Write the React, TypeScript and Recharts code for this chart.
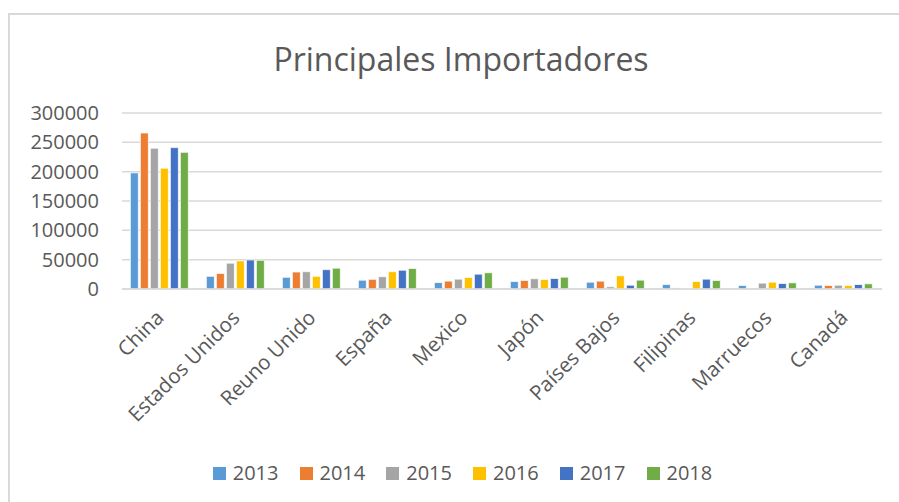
import { BarChart, Bar, XAxis, YAxis, CartesianGrid } from 'recharts';

const COUNTRIES = [
  'China',
  'Estados Unidos',
  'Reuno Unido',
  'España',
  'Mexico',
  'Japón',
  'Países Bajos',
  'Filipinas',
  'Marruecos',
  'Canadá',
];

const YEARS = ['2013', '2014', '2015', '2016', '2017', '2018'];

const V2013 = [198000, 21700, 20000, 15000, 11000, 12800, 11600, 7700, 6000, 6500];
const V2014 = [266000, 26500, 29000, 16500, 13500, 14600, 13400, 1800, 0, 6000];
const V2015 = [240000, 44000, 29500, 21000, 16800, 17500, 3800, 500, 10000, 6500];
const V2016 = [206000, 48000, 21700, 29500, 19700, 16300, 22600, 12800, 11600, 6000];
const V2017 = [241000, 49500, 33000, 32000, 25300, 18000, 6500, 16800, 9400, 7700];
const V2018 = [233000, 49000, 35500, 35000, 27700, 20200, 15100, 14600, 10600, 8900];

const Y_TICKS = [0, 50000, 100000, 150000, 200000, 250000, 300000];

const COLORS = ['#5B9BD5', '#ED7D31', '#A5A5A5', '#FFC000', '#4472C4', '#70AD47'];

const SERIES = [V2013, V2014, V2015, V2016, V2017, V2018];

const data = COUNTRIES.map((name, i) => {
  const row: Record<string, string | number> = { name };
  YEARS.forEach((y, k) => {
    row[y] = SERIES[k][i];
  });
  return row;
});

const FONT = '"Open Sans", "Noto Sans", sans-serif';
const TEXT = '#595959';

function CountryTick(props: any) {
  const { x, y, payload } = props;
  const ax = x + 5;
  const ay = y + 22;
  return (
    <text
      x={ax}
      y={ay}
      transform={`rotate(-45, ${ax}, ${ay})`}
      textAnchor="end"
      fill={TEXT}
      fontSize={20.5}
      fontFamily={FONT}
    >
      {payload.value}
    </text>
  );
}

export default function App() {
  return (
    <div
      style={{
        position: 'fixed',
        left: 0,
        top: 0,
        width: 899,
        height: 502,
        overflow: 'hidden',
        background: '#fff',
      }}
    >
      <div
        style={{
          position: 'absolute',
          left: 8,
          top: 13,
          width: 900,
          height: 500,
          borderTop: '2px solid #d9d9d9',
          borderLeft: '2px solid #d9d9d9',
        }}
      />
      <div
        style={{
          position: 'absolute',
          left: 0,
          top: 37,
          width: 922,
          textAlign: 'center',
          fontFamily: FONT,
          fontSize: 32,
          color: TEXT,
        }}
      >
        Principales Importadores
      </div>
      <div style={{ position: 'absolute', left: 0, top: 0 }}>
        <BarChart
          width={899}
          height={502}
          data={data}
          margin={{ top: 113, right: 17, left: 0, bottom: 0 }}
          barCategoryGap="11%"
          barGap={2}
        >
          <CartesianGrid vertical={false} stroke="#d9d9d9" strokeWidth={1.5} />
          <XAxis
            dataKey="name"
            height={213}
            interval={0}
            tickLine={false}
            axisLine={{ stroke: '#d9d9d9', strokeWidth: 1.5 }}
            tick={<CountryTick />}
          />
          <YAxis
            width={122}
            domain={[0, 300000]}
            ticks={Y_TICKS}
            tickLine={false}
            axisLine={false}
            tickMargin={17}
            tick={{ fill: TEXT, fontSize: 20, fontFamily: FONT }}
          />
          {YEARS.map((y, k) => (
            <Bar
              key={y}
              dataKey={y}
              fill={COLORS[k]}
              stroke="#fff"
              strokeWidth={0.75}
              isAnimationActive={false}
            />
          ))}
        </BarChart>
      </div>
      <div
        style={{
          position: 'absolute',
          left: 0,
          top: 460,
          width: 925,
          display: 'flex',
          justifyContent: 'center',
          fontFamily: FONT,
          fontSize: 20,
          color: TEXT,
        }}
      >
        {YEARS.map((y, k) => (
          <div
            key={y}
            style={{ display: 'flex', alignItems: 'center', marginRight: k < YEARS.length - 1 ? 21 : 0 }}
          >
            <span style={{ width: 13, height: 13, background: COLORS[k], marginRight: 7, display: 'inline-block' }} />
            <span style={{ lineHeight: '26px' }}>{y}</span>
          </div>
        ))}
      </div>
    </div>
  );
}
